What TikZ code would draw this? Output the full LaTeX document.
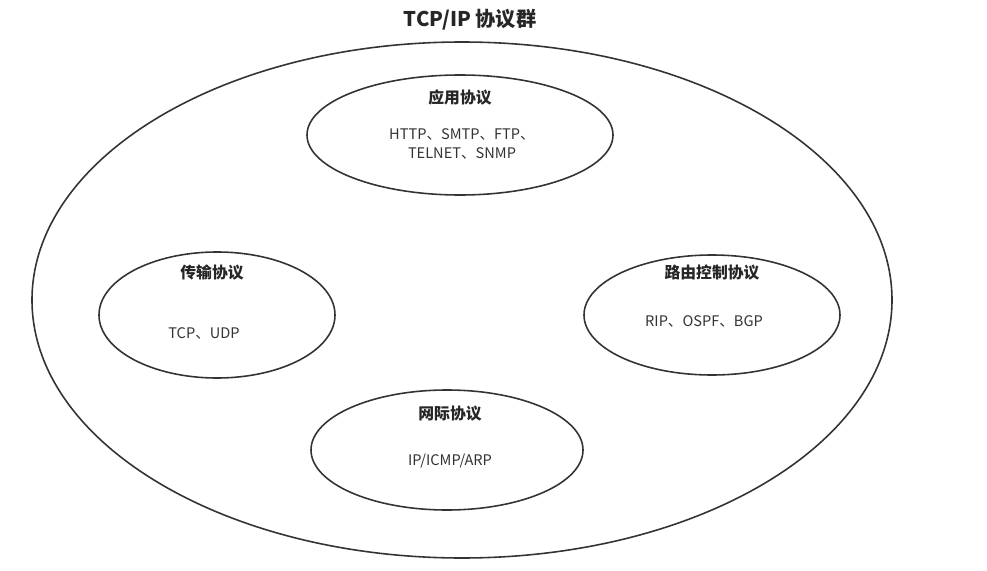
\documentclass[tikz,border=0pt]{standalone}
\usepackage{fontspec}
\setmainfont{Noto Sans CJK SC}
\begin{document}
\begin{tikzpicture}[x=0.02cm,y=-0.02cm,
  ell/.style={draw=black!80,line width=0.9pt},
  ttl/.style={font=\fontsize{9}{11}\selectfont\bfseries,text=black!85},
  body/.style={font=\fontsize{8.3}{11}\selectfont,text=black!80,align=center}]
\useasboundingbox[fill=white] (0,0) rectangle (987,571);
\node[font=\fontsize{11.5}{13}\selectfont\bfseries,text=black!85] (title) at (470,20) {TCP/IP 协议群};
\draw[ell] (462,300) ellipse [x radius=430,y radius=258];
\draw[ell] (460,135) ellipse [x radius=153,y radius=60];
\draw[ell] (217,315) ellipse [x radius=118,y radius=63];
\draw[ell] (712,315) ellipse [x radius=128,y radius=60];
\draw[ell] (447,450) ellipse [x radius=136,y radius=60];
\node[ttl] (a1) at (460,97) {应用协议};
\node[body] (a2) at (462,144) {HTTP、SMTP、FTP、\\TELNET、SNMP};
\node[ttl] (t1) at (212,273) {传输协议};
\node[body] (t2) at (204,333) {TCP、UDP};
\node[ttl] (r1) at (712,273) {路由控制协议};
\node[body] (r2) at (704,321) {RIP、OSPF、BGP};
\node[ttl] (n1) at (450,414) {网际协议};
\node[body] (n2) at (450,461) {IP/ICMP/ARP};
\end{tikzpicture}
\end{document}
